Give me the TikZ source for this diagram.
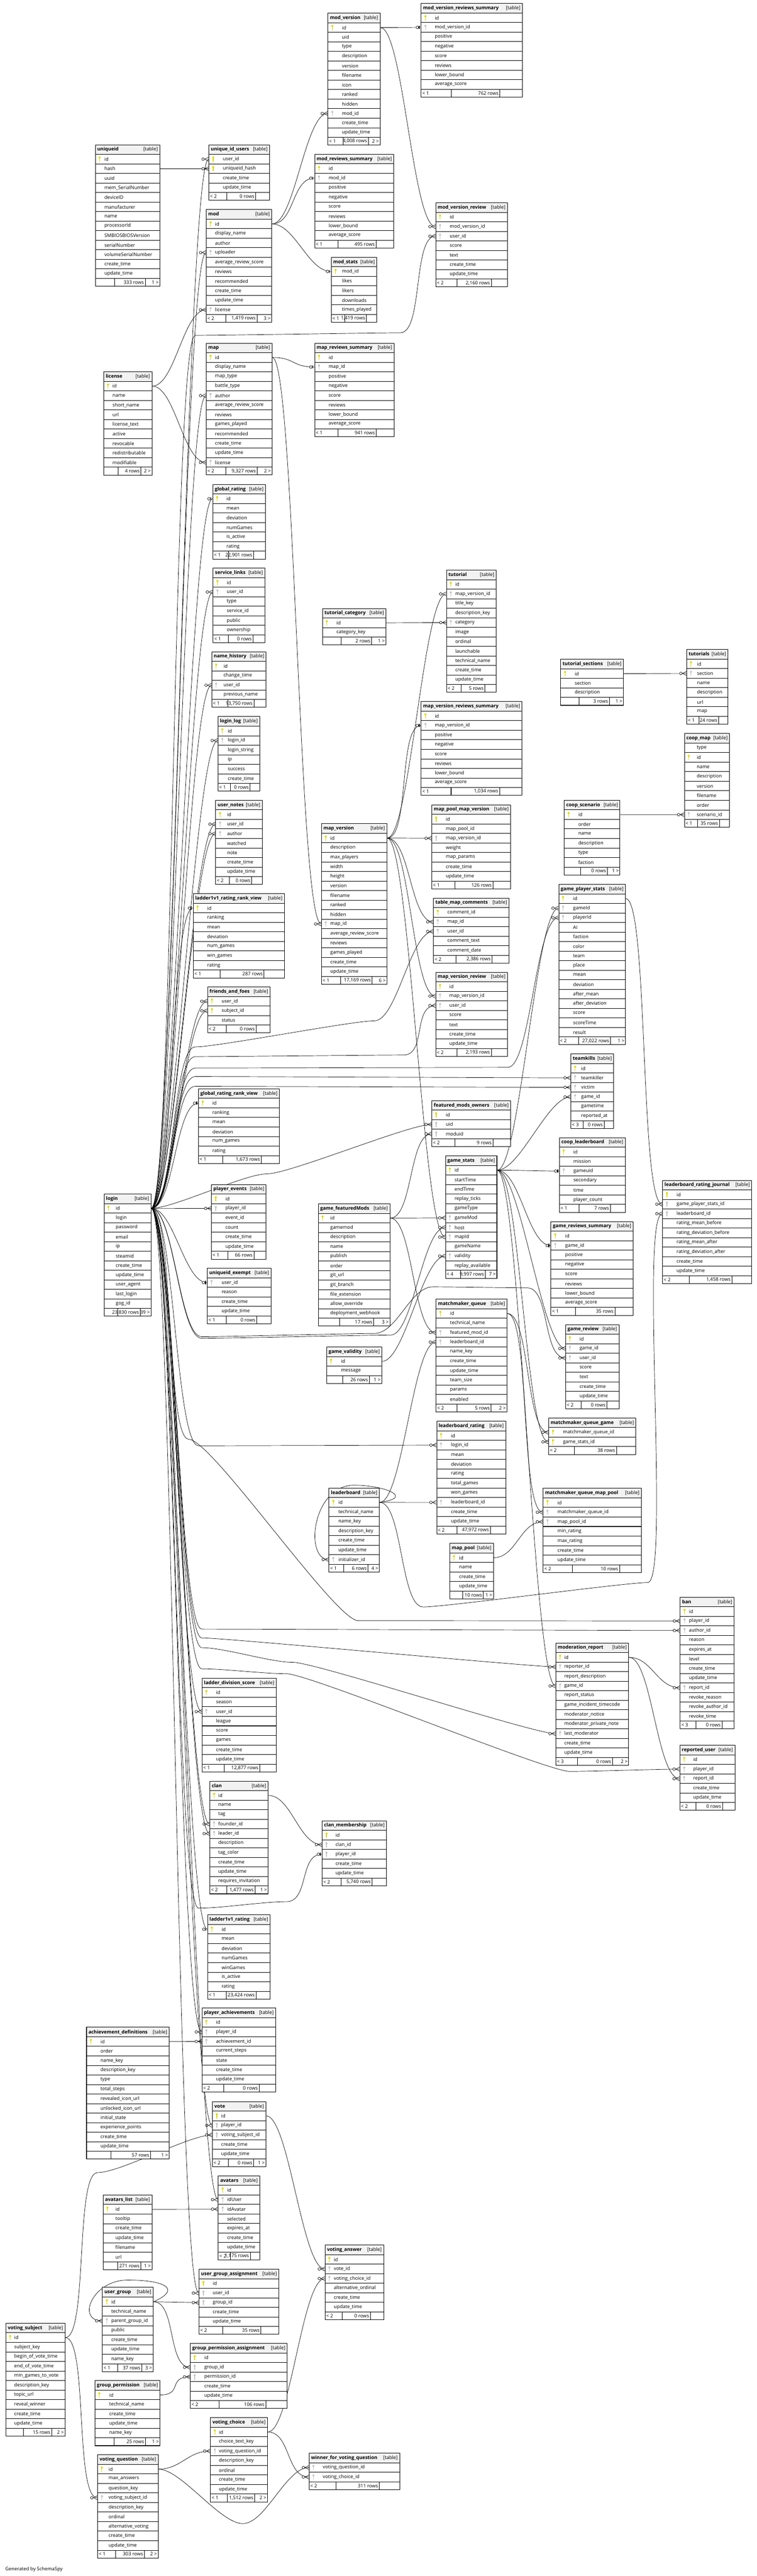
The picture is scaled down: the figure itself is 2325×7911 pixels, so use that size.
\documentclass[tikz,border=0pt]{standalone}
\usepackage{fontspec}
\setmainfont{Open Sans}
\usetikzlibrary{backgrounds}
\definecolor{key-pk}{HTML}{D9D900}
\definecolor{key-fk}{HTML}{C4C4C4}
\definecolor{head-fill}{HTML}{F2F2F2}
\tikzset{tbl-line/.style={line width=0.8pt}}
\tikzset{tbl-head/.style={draw, tbl-line, fill=head-fill, inner sep=0, minimum height=14.65pt, anchor=north west, font=\fontsize{7.4}{9}\selectfont}}
\tikzset{tbl-row/.style={draw, tbl-line, fill=white, inner sep=0, minimum height=14.65pt, anchor=north west, align=left, font=\fontsize{7.4}{9}\selectfont}}
\tikzset{tbl-foot/.style={draw, tbl-line, fill=white, inner sep=0, minimum height=12pt, anchor=north west}}
\tikzset{tbl-cell/.style={inner sep=0, font=\fontsize{7.4}{9}\selectfont}}
\tikzset{fk-line/.style={line width=0.55pt, to path={.. controls +(70,0) and +(-70,0) .. (\tikztotarget)}}}
\tikzset{fk-mark/.style={line width=0.55pt}}

% key icon in front of a column
\newcommand{\keyicon}[2]{%
  \draw[#2, line width=0.9pt] ([xshift=7pt,yshift=2pt]#1.west) -- ([xshift=7pt,yshift=-4pt]#1.west);
  \fill[#2] ([xshift=7pt,yshift=2.4pt]#1.west) circle (1.6pt);}

% name, x, y, width, text indent, columns, parents, rows, children
\newcommand{\dbtable}[9]{%
  \pgfmathsetlengthmacro\txtoff{#5*0.5pt}%
  \node[tbl-head, minimum width=#4*0.5pt, text width=#4*0.5pt-6pt] (#1) at (#2,#3)
    {\hbox to \linewidth{\textbf{#1}\hfill[table]}};
  \foreach \kind/\col [count=\rowi] in {#6}{%
    \node[tbl-row, minimum width=#4*0.5pt, text width=#4*0.5pt] (#1-\col) at (#2,{#3+29.3*\rowi})
      {\hspace*{\txtoff}\col};
    \if p\kind\keyicon{#1-\col}{key-pk}\fi
    \if f\kind\keyicon{#1-\col}{key-fk}\fi
    \xdef\nrows{\rowi}}
  \pgfmathsetmacro\footy{#3+29.3*(\nrows+1)}
  \node[tbl-foot, minimum width=#4*0.5pt] (#1-foot) at (#2,\footy) {};
  \draw[tbl-line] ([xshift=#4*0.15pt]#1-foot.north west) -- ([xshift=#4*0.15pt]#1-foot.south west)
    ([xshift=#4*0.39pt]#1-foot.north west) -- ([xshift=#4*0.39pt]#1-foot.south west);
  \node[tbl-cell, anchor=west] (#1-fl) at ([xshift=2pt]#1-foot.west) {#7};
  \node[tbl-cell, anchor=east] (#1-fm) at ([xshift=#4*0.39pt-2pt]#1-foot.west) {#8};
  \node[tbl-cell, anchor=east] (#1-fr) at ([xshift=-2pt]#1-foot.east) {#9};}

% crow's foot ends
\newcommand{\fkendmany}[1]{%
  \draw[fk-mark] ([xshift=-6pt]#1.west) -- ([yshift=3pt]#1.west)
    ([xshift=-6pt]#1.west) -- ([yshift=-3pt]#1.west);
  \draw[fk-mark, fill=white] ([xshift=-8.5pt]#1.west) circle (2pt);}
\newcommand{\fkendone}[1]{%
  \draw[fk-mark, line width=1.3pt] ([xshift=-2.5pt,yshift=2.5pt]#1.west) -- ([xshift=-2.5pt,yshift=-2.5pt]#1.west);
  \draw[fk-mark, fill=white] ([xshift=-5.5pt]#1.west) circle (2pt);}
\newcommand{\fk}[3][many]{%
  \draw[fk-line] (#2.east) to (#3.west);
  \csname fkend#1\endcsname{#3}}
\newcommand{\fkvia}[4][many]{%
  \draw[fk-line] (#2.east) to #3 to (#4.west);
  \csname fkend#1\endcsname{#4}}

\begin{document}
\catcode`\_=12
\begin{tikzpicture}[x=0.5pt, y=-0.5pt]
\useasboundingbox (0,0) rectangle (2325,7911);

% mods
\dbtable{mod_version}{1007}{40}{160}{43}{p/id,n/uid,n/type,n/description,n/version,n/filename,n/icon,n/ranked,n/hidden,f/mod_id,n/create_time,n/update_time}{< 1}{4,008 rows}{2 >}
\dbtable{mod_version_reviews_summary}{1293}{10}{311}{42}{p/id,f/mod_version_id,n/positive,n/negative,n/score,n/reviews,n/lower_bound,n/average_score}{< 1}{762 rows}{}
\dbtable{uniqueid}{292}{444}{198}{28}{p/id,n/hash,n/uuid,n/mem_SerialNumber,n/deviceID,n/manufacturer,n/name,n/processorId,n/SMBIOSBIOSVersion,n/serialNumber,n/volumeSerialNumber,n/create_time,n/update_time}{}{333 rows}{1 >}
\dbtable{unique_id_users}{641}{444}{186}{43}{p/user_id,p/uniqueid_hash,n/create_time,n/update_time}{< 2}{0 rows}{}
\dbtable{mod}{633}{643}{201}{27}{p/id,n/display_name,n/author,f/uploader,n/average_review_score,n/reviews,n/recommended,n/create_time,n/update_time,f/license}{< 2}{1,419 rows}{3 >}
\dbtable{mod_reviews_summary}{966}{473}{243}{43}{p/id,f/mod_id,n/positive,n/negative,n/score,n/reviews,n/lower_bound,n/average_score}{< 1}{495 rows}{}
\dbtable{mod_stats}{1017}{789}{140}{33}{p/mod_id,n/likes,n/likers,n/downloads,n/times_played}{< 1}{1,419 rows}{}
\dbtable{mod_version_review}{1338}{622}{220}{43}{p/id,f/mod_version_id,f/user_id,n/score,n/text,n/create_time,n/update_time}{< 2}{2,160 rows}{}

% maps
\dbtable{license}{318}{1141}{148}{27}{p/id,n/name,n/short_name,n/url,n/license_text,n/active,n/revocable,n/redistributable,n/modifiable}{}{4 rows}{2 >}
\dbtable{map}{633}{1053}{202}{27}{p/id,n/display_name,n/map_type,n/battle_type,f/author,n/average_review_score,n/reviews,n/games_played,n/recommended,n/create_time,n/update_time,f/license}{< 2}{9,327 rows}{2 >}
\dbtable{map_reviews_summary}{966}{1053}{244}{43}{p/id,f/map_id,n/positive,n/negative,n/score,n/reviews,n/lower_bound,n/average_score}{< 1}{941 rows}{}
\dbtable{global_rating}{653}{1487}{162}{42}{p/id,n/mean,n/deviation,n/numGames,n/is_active,n/rating}{< 1}{22,901 rows}{}
\dbtable{service_links}{654}{1744}{159}{42}{p/id,f/user_id,n/type,n/service_id,n/public,n/ownership}{< 1}{0 rows}{}
\dbtable{name_history}{650}{2001}{167}{36}{p/id,n/change_time,f/user_id,n/previous_name}{< 1}{13,750 rows}{}
\dbtable{tutorial_category}{990}{1868}{195}{43}{p/id,n/category_key}{}{2 rows}{1 >}
\dbtable{tutorial}{1371}{1750}{153}{27}{p/id,f/map_version_id,n/title_key,n/description_key,f/category,n/image,n/ordinal,n/launchable,n/technical_name,n/create_time,n/update_time}{< 2}{5 rows}{}
\dbtable{tutorial_sections}{1722}{2024}{193}{43}{p/id,n/section,n/description}{}{3 rows}{1 >}
\dbtable{tutorials}{2109}{1994}{127}{32}{p/id,f/section,n/name,n/description,n/url,n/map}{< 1}{24 rows}{}
\dbtable{map_version_reviews_summary}{1293}{2154}{310}{42}{p/id,f/map_version_id,n/positive,n/negative,n/score,n/reviews,n/lower_bound,n/average_score}{< 1}{1,034 rows}{}
\dbtable{coop_map}{2102}{2252}{139}{38}{n/type,p/id,n/name,n/description,n/version,n/filename,n/order,f/scenario_id}{< 1}{35 rows}{}
\dbtable{coop_scenario}{1733}{2457}{171}{43}{p/id,n/order,n/name,n/description,n/type,n/faction}{}{0 rows}{1 >}
\dbtable{game_player_stats}{1716}{2715}{205}{44}{p/id,f/gameId,f/playerId,n/AI,n/faction,n/color,n/team,n/place,n/mean,n/deviation,n/after_mean,n/after_deviation,n/score,n/scoreTime,n/result}{< 2}{27,022 rows}{1 >}
\dbtable{teamkills}{1753}{3236}{132}{32}{p/id,f/teamkiller,f/victim,f/game_id,n/gametime,n/reported_at}{< 3}{0 rows}{}
\dbtable{login_log}{669}{2200}{128}{30}{p/id,f/login_id,n/login_string,n/ip,n/success,n/create_time}{< 1}{0 rows}{}
\dbtable{user_notes}{662}{2457}{143}{35}{p/id,f/user_id,f/author,n/watched,n/note,n/create_time,n/update_time}{< 2}{0 rows}{}
\dbtable{ladder1v1_rating_rank_view}{593}{2744}{280}{43}{p/id,n/ranking,n/mean,n/deviation,n/num_games,n/win_games,n/rating}{< 1}{287 rows}{}
\dbtable{friends_and_foes}{637}{3030}{192}{43}{p/user_id,p/subject_id,n/status}{< 2}{0 rows}{}
\dbtable{global_rating_rank_view}{609}{3343}{249}{43}{p/id,n/ranking,n/mean,n/deviation,n/num_games,n/rating}{< 1}{1,673 rows}{}
\dbtable{map_version}{987}{2529}{201}{27}{p/id,n/description,n/max_players,n/width,n/height,n/version,n/filename,n/ranked,n/hidden,f/map_id,n/average_review_score,n/reviews,n/games_played,n/create_time,n/update_time}{< 1}{17,169 rows}{6 >}
\dbtable{map_pool_map_version}{1326}{2471}{242}{43}{p/id,n/map_pool_id,f/map_version_id,n/weight,n/map_params,n/create_time,n/update_time}{< 1}{126 rows}{}
\dbtable{table_map_comments}{1331}{2757}{232}{43}{p/comment_id,f/map_id,f/user_id,n/comment_text,n/comment_date}{< 2}{2,386 rows}{}
\dbtable{map_version_review}{1338}{2985}{220}{42}{p/id,f/map_version_id,f/user_id,n/score,n/text,n/create_time,n/update_time}{< 2}{2,193 rows}{}

% games
\dbtable{featured_mods_owners}{1326}{3379}{242}{43}{p/id,f/uid,f/moduid}{< 2}{9 rows}{}
\dbtable{login}{319}{3666}{144}{36}{p/id,n/login,n/password,n/email,n/ip,n/steamid,n/create_time,n/update_time,n/user_agent,n/last_login,n/gog_id}{}{23,830 rows}{39 >}
\dbtable{player_events}{649}{3637}{168}{43}{p/id,f/player_id,n/event_id,n/count,n/create_time,n/update_time}{< 1}{66 rows}{}
\dbtable{uniqueid_exempt}{636}{3894}{196}{44}{f/user_id,n/reason,n/create_time,n/update_time}{< 1}{0 rows}{}
\dbtable{game_stats}{1368}{3549}{158}{28}{p/id,n/startTime,n/endTime,n/replay_ticks,n/gameType,f/gameMod,f/host,f/mapId,n/gameName,f/validity,n/replay_available}{< 4}{9,997 rows}{7 >}
\dbtable{game_featuredMods}{977}{3696}{220}{37}{p/id,n/gamemod,n/description,n/name,n/publish,n/order,n/git_url,n/git_branch,n/file_extension,n/allow_override,n/deployment_webhook}{}{17 rows}{3 >}
\dbtable{game_validity}{1003}{4136}{169}{44}{p/id,n/message}{}{26 rows}{1 >}
\dbtable{matchmaker_queue}{1339}{3989}{218}{43}{p/id,n/technical_name,f/featured_mod_id,f/leaderboard_id,n/name_key,n/create_time,n/update_time,n/team_size,n/params,n/enabled}{< 2}{5 rows}{2 >}
\dbtable{leaderboard_rating}{1341}{4364}{212}{44}{p/id,f/login_id,n/mean,n/deviation,n/rating,n/total_games,n/won_games,f/leaderboard_id,n/create_time,n/update_time}{< 2}{47,972 rows}{}
\dbtable{leaderboard}{1010}{4569}{155}{29}{p/id,n/technical_name,n/name_key,n/description_key,n/create_time,n/update_time,f/initializer_id}{< 1}{6 rows}{4 >}
\dbtable{map_pool}{1381}{4739}{134}{29}{p/id,n/name,n/create_time,n/update_time}{}{10 rows}{1 >}
\dbtable{coop_leaderboard}{1718}{3493}{202}{43}{p/id,n/mission,f/gameuid,n/secondary,n/time,n/player_count}{< 1}{7 rows}{}
\dbtable{game_reviews_summary}{1692}{3751}{253}{44}{p/id,f/game_id,n/positive,n/negative,n/score,n/reviews,n/lower_bound,n/average_score}{< 1}{35 rows}{}
\dbtable{game_review}{1737}{4067}{164}{43}{p/id,f/game_id,f/user_id,n/score,n/text,n/create_time,n/update_time}{< 2}{0 rows}{}
\dbtable{matchmaker_queue_game}{1685}{4354}{268}{44}{p/matchmaker_queue_id,p/game_stats_id}{< 2}{38 rows}{}
\dbtable{matchmaker_queue_map_pool}{1668}{4570}{302}{44}{p/id,f/matchmaker_queue_id,f/map_pool_id,n/min_rating,n/max_rating,n/create_time,n/update_time}{< 2}{10 rows}{}
\dbtable{leaderboard_rating_journal}{2035}{3624}{274}{43}{p/id,f/game_player_stats_id,f/leaderboard_id,n/rating_mean_before,n/rating_deviation_before,n/rating_mean_after,n/rating_deviation_after,n/create_time,n/update_time}{< 2}{1,458 rows}{}

% moderation, clans
\dbtable{ban}{2089}{4904}{166}{27}{p/id,f/player_id,f/author_id,n/reason,n/expires_at,n/level,n/create_time,n/update_time,f/report_id,n/revoke_reason,n/revoke_author_id,n/revoke_time}{< 3}{0 rows}{}
\dbtable{moderation_report}{1707}{5045}{224}{26}{p/id,f/reporter_id,n/report_description,f/game_id,n/report_status,n/game_incident_timecode,n/moderator_notice,n/moderator_private_note,f/last_moderator,n/create_time,n/update_time}{< 3}{0 rows}{2 >}
\dbtable{reported_user}{2088}{5359}{169}{41}{p/id,f/player_id,f/report_id,n/create_time,n/update_time}{< 2}{0 rows}{}
\dbtable{ladder_division_score}{620}{5153}{228}{43}{p/id,n/season,f/user_id,n/league,n/score,n/games,n/create_time,n/update_time}{< 1}{12,877 rows}{}
\dbtable{clan}{644}{5469}{179}{26}{p/id,n/name,n/tag,f/founder_id,f/leader_id,n/description,n/tag_color,n/create_time,n/update_time,n/requires_invitation}{< 2}{1,477 rows}{1 >}
\dbtable{clan_membership}{989}{5591}{198}{41}{p/id,f/clan_id,f/player_id,n/create_time,n/update_time}{< 2}{5,740 rows}{}
\dbtable{ladder1v1_rating}{637}{5880}{192}{43}{p/id,n/mean,n/deviation,n/numGames,n/winGames,n/is_active,n/rating}{< 1}{23,424 rows}{}
\dbtable{player_achievements}{620}{6166}{226}{43}{p/id,f/player_id,f/achievement_id,n/current_steps,n/state,n/create_time,n/update_time}{< 2}{0 rows}{}
\dbtable{achievement_definitions}{265}{6225}{254}{43}{p/id,n/order,n/name_key,n/description_key,n/type,n/total_steps,n/revealed_icon_url,n/unlocked_icon_url,n/initial_state,n/experience_points,n/create_time,n/update_time}{}{57 rows}{1 >}

% votes, avatars, groups
\dbtable{vote}{652}{6453}{164}{27}{p/id,f/player_id,f/voting_subject_id,n/create_time,n/update_time}{< 2}{0 rows}{1 >}
\dbtable{avatars}{670}{6681}{127}{27}{p/id,f/idUser,f/idAvatar,n/selected,n/expires_at,n/create_time,n/update_time}{< 2}{1,175 rows}{}
\dbtable{avatars_list}{316}{6740}{150}{38}{p/id,n/tooltip,n/create_time,n/update_time,n/filename,n/url}{}{271 rows}{1 >}
\dbtable{voting_answer}{998}{6894}{180}{27}{p/id,f/vote_id,f/voting_choice_id,n/alternative_ordinal,n/create_time,n/update_time}{< 2}{0 rows}{}
\dbtable{user_group_assignment}{611}{6968}{245}{42}{p/id,f/user_id,f/group_id,n/create_time,n/update_time}{< 2}{35 rows}{}
\dbtable{user_group}{314}{7024}{156}{27}{p/id,n/technical_name,f/parent_group_id,n/public,n/create_time,n/update_time,n/name_key}{< 1}{37 rows}{3 >}
\dbtable{voting_subject}{17}{7134}{182}{26}{p/id,n/subject_key,n/begin_of_vote_time,n/end_of_vote_time,n/min_games_to_vote,n/description_key,n/topic_url,n/reveal_winner,n/create_time,n/update_time}{}{15 rows}{2 >}
\dbtable{group_permission_assignment}{584}{7196}{298}{43}{p/id,f/group_id,f/permission_id,n/create_time,n/update_time}{< 2}{106 rows}{}
\dbtable{group_permission}{291}{7310}{200}{44}{p/id,n/technical_name,n/create_time,n/update_time,n/name_key}{}{25 rows}{1 >}
\dbtable{voting_choice}{646}{7424}{175}{26}{p/id,n/choice_text_key,f/voting_question_id,n/description_key,n/ordinal,n/create_time,n/update_time}{< 1}{1,512 rows}{2 >}
\dbtable{winner_for_voting_question}{949}{7533}{278}{42}{f/voting_question_id,f/voting_choice_id}{< 2}{311 rows}{}
\dbtable{voting_question}{299}{7538}{186}{34}{p/id,n/max_answers,n/question_key,f/voting_subject_id,n/description_key,n/ordinal,n/alternative_voting,n/create_time,n/update_time}{< 1}{303 rows}{2 >}

\node[tbl-cell, anchor=west] (credit) at (16,7891) {Generated by SchemaSpy};

\begin{scope}[on background layer]
% mods
\fk[one]{mod_version-id}{mod_version_reviews_summary-mod_version_id}
\fk{mod_version-id}{mod_version_review-mod_version_id}
\fk{mod-id}{mod_version-mod_id}
\fk[one]{mod-id}{mod_reviews_summary-mod_id}
\fk[one]{mod-id}{mod_stats-mod_id}
\fk{uniqueid-hash}{unique_id_users-uniqueid_hash}
\fk{license-id}{mod-license}
\fk{license-id}{map-license}
% maps
\fk[one]{map-id}{map_reviews_summary-map_id}
\fk{map-id}{map_version-map_id}
\fk{tutorial_category-id}{tutorial-category}
\fk{tutorial_sections-id}{tutorials-section}
\fk{coop_scenario-id}{coop_map-scenario_id}
\fk{map_version-id}{tutorial-map_version_id}
\fk[one]{map_version-id}{map_version_reviews_summary-map_version_id}
\fk{map_version-id}{map_pool_map_version-map_version_id}
\fk{map_version-id}{table_map_comments-map_id}
\fk{map_version-id}{map_version_review-map_version_id}
\fk{map_version-id}{game_stats-mapId}
% games
\fk{game_featuredMods-id}{featured_mods_owners-moduid}
\fk{game_featuredMods-id}{game_stats-gameMod}
\fk{game_featuredMods-id}{matchmaker_queue-featured_mod_id}
\fk{game_validity-id}{game_stats-validity}
\fk{game_stats-id}{game_player_stats-gameId}
\fk{game_stats-id}{teamkills-game_id}
\fk[one]{game_stats-id}{coop_leaderboard-gameuid}
\fk[one]{game_stats-id}{game_reviews_summary-game_id}
\fk{game_stats-id}{game_review-game_id}
\fk{game_stats-id}{matchmaker_queue_game-game_stats_id}
\fk{game_stats-id}{moderation_report-game_id}
\fk{matchmaker_queue-id}{matchmaker_queue_game-matchmaker_queue_id}
\fk{matchmaker_queue-id}{matchmaker_queue_map_pool-matchmaker_queue_id}
\fk{map_pool-id}{matchmaker_queue_map_pool-map_pool_id}
\fk{leaderboard-id}{matchmaker_queue-leaderboard_id}
\fk{leaderboard-id}{leaderboard_rating-leaderboard_id}
\fkvia{leaderboard-id}{(1300,4935) to (1990,4860)}{leaderboard_rating_journal-leaderboard_id}
\draw[fk-line] (leaderboard-id.east) .. controls +(110,-15) and +(90,0) .. ([yshift=4pt]leaderboard.north)
  .. controls +(-130,0) and +(-75,0) .. (leaderboard-initializer_id.west);
\fkendmany{leaderboard-initializer_id}
\fk{game_player_stats-id}{leaderboard_rating_journal-game_player_stats_id}
\fk{moderation_report-id}{ban-report_id}
\fk{moderation_report-id}{reported_user-report_id}
\fk{clan-id}{clan_membership-clan_id}
\fk{achievement_definitions-id}{player_achievements-achievement_id}
% votes, avatars, groups
\fkvia{voting_subject-id}{(300,6672)}{vote-voting_subject_id}
\fk{voting_subject-id}{voting_question-voting_subject_id}
\fk{vote-id}{voting_answer-vote_id}
\fk{voting_choice-id}{voting_answer-voting_choice_id}
\fk{voting_choice-id}{winner_for_voting_question-voting_choice_id}
\fk{voting_question-id}{voting_choice-voting_question_id}
\fkvia{voting_question-id}{(746,7750)}{winner_for_voting_question-voting_question_id}
\fk{avatars_list-id}{avatars-idAvatar}
\fk{user_group-id}{user_group_assignment-group_id}
\fk{user_group-id}{group_permission_assignment-group_id}
\fk{group_permission-id}{group_permission_assignment-permission_id}
\draw[fk-line] (user_group-id.east) .. controls +(90,-40) and +(110,0) .. ([yshift=11pt]user_group.north)
  .. controls +(-110,0) and +(-80,0) .. (user_group-parent_group_id.west);
\fkendmany{user_group-parent_group_id}
% login
\fk{login-id}{unique_id_users-user_id}
\fk{login-id}{mod-uploader}
\fkvia{login-id}{(600,1030) to (1230,1022)}{mod_version_review-user_id}
\fk{login-id}{map-author}
\fk[one]{login-id}{global_rating-id}
\fk{login-id}{service_links-user_id}
\fk{login-id}{name_history-user_id}
\fk{login-id}{login_log-login_id}
\fk{login-id}{user_notes-user_id}
\fk{login-id}{user_notes-author}
\fk[one]{login-id}{ladder1v1_rating_rank_view-id}
\fk{login-id}{friends_and_foes-user_id}
\fk{login-id}{friends_and_foes-subject_id}
\fk[one]{login-id}{global_rating_rank_view-id}
\fkvia{login-id}{(600,3215) to (1150,3135)}{table_map_comments-user_id}
\fkvia{login-id}{(600,3245) to (1240,3240)}{map_version_review-user_id}
\fkvia{login-id}{(600,3280) to (1560,3278)}{game_player_stats-playerId}
\fkvia{login-id}{(600,3306)}{teamkills-teamkiller}
\fkvia{login-id}{(600,3336)}{teamkills-victim}
\fkvia{login-id}{(820,3605)}{featured_mods_owners-uid}
\fk{login-id}{player_events-player_id}
\fk[one]{login-id}{uniqueid_exempt-user_id}
\fkvia{login-id}{(620,4110) to (1200,4100)}{game_stats-host}
\fkvia{login-id}{(620,4105) to (1150,4095) to (1330,3952) to (1620,3955)}{game_review-user_id}
\fkvia{login-id}{(610,4440)}{leaderboard_rating-login_id}
\fkvia{login-id}{(580,4420) to (1100,4977)}{ban-player_id}
\fkvia{login-id}{(620,5003)}{ban-author_id}
\fkvia{login-id}{(620,5030)}{moderation_report-reporter_id}
\fkvia{login-id}{(620,5060) to (900,5105)}{moderation_report-last_moderator}
\fkvia{login-id}{(620,5125) to (880,5140) to (1750,5440)}{reported_user-player_id}
\fk{login-id}{ladder_division_score-user_id}
\fk{login-id}{clan-founder_id}
\fk{login-id}{clan-leader_id}
\fkvia[one]{login-id}{(610,5860) to (880,5840)}{clan_membership-player_id}
\fk[one]{login-id}{ladder1v1_rating-id}
\fk{login-id}{player_achievements-player_id}
\fk{login-id}{vote-player_id}
\fk{login-id}{avatars-idUser}
\fk{login-id}{user_group_assignment-user_id}
\end{scope}
\end{tikzpicture}
\end{document}
